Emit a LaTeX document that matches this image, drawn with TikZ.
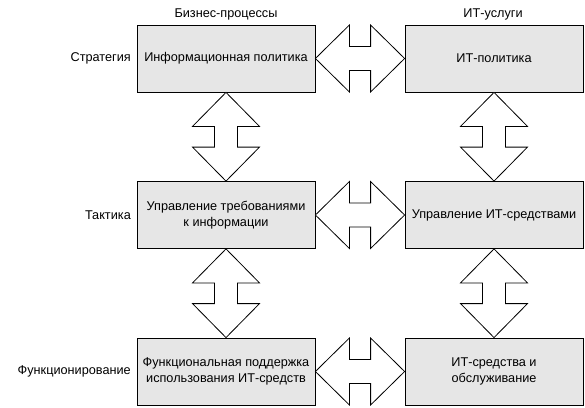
\documentclass[tikz,border=0pt]{standalone}
\usepackage{fontspec}
\setmainfont{Liberation Sans}
\usetikzlibrary{calc}
\begin{document}
\begin{tikzpicture}[x=1pt,y=-1pt,
  box/.style={draw=black,line width=0.8pt,fill=boxgray,minimum width=178pt,minimum height=67pt,inner sep=2pt,align=center,font=\fontsize{12.7}{16}\selectfont},
  lbl/.style={font=\fontsize{12.7}{16}\selectfont,inner sep=0pt},
  dblarrow/.style={draw=black,line width=0.8pt,fill=white,line join=miter}]
\definecolor{boxgray}{HTML}{E6E6E6}
\useasboundingbox (0,0) rectangle (585,407);
\node[box] (s1) at (226,58.5) {Информационная политика};
\node[box] (s2) at (494,58.5) {ИТ-политика};
\node[box] (t1) at (226,215) {Управление требованиями\\к информации};
\node[box] (t2) at (494,215) {Управление ИТ-средствами};
\node[box] (f1) at (226,371.5) {Функциональная поддержка\\использования ИТ-средств};
\node[box] (f2) at (494,371.5) {ИТ-средства и\\обслуживание};
\node[lbl] (h1) at (226,14) {Бизнес-процессы};
\node[lbl] (h2) at (493,14) {ИТ-услуги};
\node[lbl,anchor=east] (r1) at (131,58.5) {Стратегия};
\node[lbl,anchor=east] (r2) at (131,215) {Тактика};
\node[lbl,anchor=east] (r3) at (131,371.5) {Функционирование};
% horizontal double arrows
\foreach \a/\b in {s1/s2,t1/t2,f1/f2}{
  \draw[dblarrow] (\a.east) -- ($(\a.east)+(34,-33.5)$) -- ($(\a.east)+(34,-12)$)
    -- ($(\b.west)+(-34,-12)$) -- ($(\b.west)+(-34,-33.5)$) -- (\b.west)
    -- ($(\b.west)+(-34,33.5)$) -- ($(\b.west)+(-34,12)$)
    -- ($(\a.east)+(34,12)$) -- ($(\a.east)+(34,33.5)$) -- cycle;
}
% vertical double arrows
\foreach \a/\b in {s1/t1,t1/f1,s2/t2,t2/f2}{
  \draw[dblarrow] (\a.south) -- ($(\a.south)+(33.5,34)$) -- ($(\a.south)+(11.5,34)$)
    -- ($(\b.north)+(11.5,-34)$) -- ($(\b.north)+(33.5,-34)$) -- (\b.north)
    -- ($(\b.north)+(-33.5,-34)$) -- ($(\b.north)+(-11.5,-34)$)
    -- ($(\a.south)+(-11.5,34)$) -- ($(\a.south)+(-33.5,34)$) -- cycle;
}
\end{tikzpicture}
\end{document}
